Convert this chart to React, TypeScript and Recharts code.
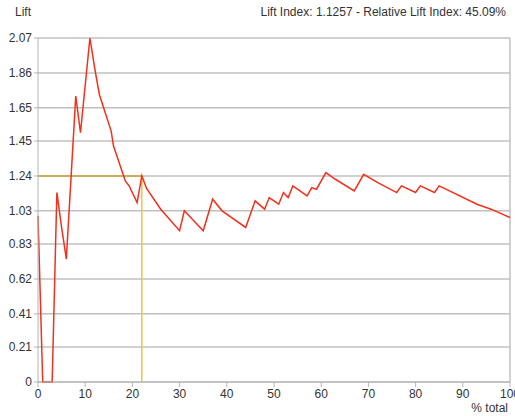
import React from "react";
import {
  LineChart, Line, XAxis, YAxis, CartesianGrid, ReferenceLine, Label,
} from "recharts";

// cumulative lift curve, vertices
const pctTotal = [
  0, 1, 3, 4, 5, 6, 8, 9, 11, 12, 13, 15.5, 16, 18.5, 19.3, 21, 22, 23, 26, 30,
  31, 35, 37, 39, 44, 46, 48, 49, 51, 52, 53, 54, 57, 58, 59, 61, 63, 67, 69, 72,
  76, 77, 80, 81, 84, 85, 93, 96, 100,
];
const liftValues = [
  1.0, 0, 0, 1.14, 0.93, 0.74, 1.72, 1.5, 2.07, 1.89, 1.73, 1.51, 1.42, 1.21, 1.18, 1.08, 1.24, 1.165, 1.04, 0.91,
  1.03, 0.91, 1.1, 1.03, 0.93, 1.09, 1.04, 1.11, 1.07, 1.14, 1.11, 1.18, 1.12, 1.17, 1.16, 1.26, 1.22, 1.15, 1.25, 1.2,
  1.14, 1.18, 1.14, 1.18, 1.14, 1.18, 1.07, 1.04, 0.99,
];

const yTickLabels = ["0", "0.21", "0.41", "0.62", "0.83", "1.03", "1.24", "1.45", "1.65", "1.86", "2.07"];
const xTicks = [0, 10, 20, 30, 40, 50, 60, 70, 80, 90, 100];

const cutoffPct = 22;
const cutoffLift = 1.24;

const data = pctTotal.map((x, i) => ({ x, lift: liftValues[i] }));
const yTicks = yTickLabels.map(Number);

const font = "'Liberation Sans', Arial, sans-serif";
const tickStyle = { fontSize: 12, fill: "#333", fontFamily: font };

export default function App() {
  return (
    <div style={{ position: "absolute", left: 0, top: 0, width: 515, height: 416, background: "#fff", fontFamily: font }}>
      <div style={{ position: "absolute", left: 15, top: 5, fontSize: 12, color: "#333" }}>Lift</div>
      <div style={{ position: "absolute", right: 9, top: 5, fontSize: 12, color: "#333" }}>
        Lift Index: 1.1257 - Relative Lift Index: 45.09%
      </div>
      <LineChart width={515} height={416} data={data} margin={{ top: 38, right: 5, bottom: 0, left: 0 }}>
        <CartesianGrid vertical={false} stroke="#c0c0c0" strokeWidth={1.5} />
        <XAxis
          dataKey="x"
          type="number"
          domain={[0, 100]}
          ticks={xTicks}
          height={34}
          tickSize={5}
          tick={tickStyle}
          stroke="#b4b4b4"
          interval={0}
        >
          <Label value="% total" position="insideBottomRight" offset={0} dy={-4} dx={-2} style={{ fontSize: 12, fill: "#333", fontFamily: font }} />
        </XAxis>
        <YAxis
          type="number"
          domain={[0, 2.07]}
          ticks={yTicks}
          tickFormatter={(_v, i) => yTickLabels[i]}
          width={38}
          tickSize={4}
          tick={tickStyle}
          stroke="#b4b4b4"
          interval={0}
        />
        <ReferenceLine x={100} stroke="#c0c0c0" strokeWidth={1.5} />
        <ReferenceLine
          segment={[{ x: 0, y: cutoffLift }, { x: cutoffPct, y: cutoffLift }]}
          stroke="#c9a233"
          strokeWidth={1.5}
        />
        <ReferenceLine
          segment={[{ x: cutoffPct, y: 0 }, { x: cutoffPct, y: cutoffLift }]}
          stroke="#e6c452"
          strokeWidth={1.5}
        />
        <Line
          type="linear"
          dataKey="lift"
          stroke="#f2301c"
          strokeWidth={1.5}
          dot={false}
          isAnimationActive={false}
        />
      </LineChart>
    </div>
  );
}
